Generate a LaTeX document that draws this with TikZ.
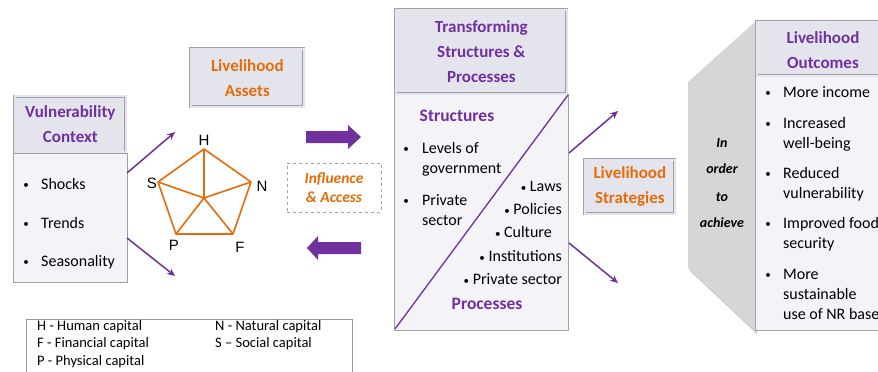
\documentclass[tikz,border=0pt]{standalone}
\usepackage{fontspec}
\setmainfont{Carlito}
\newfontfamily\arialf{Liberation Sans}
\usetikzlibrary{arrows.meta}
\definecolor{purp}{HTML}{7030A0}
\definecolor{orng}{HTML}{E46C0A}
\definecolor{hdrfill}{HTML}{E4E4EC}
\definecolor{bodyfill}{HTML}{F3F3F8}
\definecolor{framec}{HTML}{A0A0AA}
\definecolor{hexfill}{HTML}{D6D6D6}
\newcommand{\smbul}{{\fontsize{11}{11}\selectfont•}}
\tikzset{
  hdr/.style={draw=framec, double=hdrfill, double distance=1.8pt, line width=0.7pt, fill=hdrfill,
    inner sep=0pt, anchor=north west, align=center, font=\fontsize{17}{25}\selectfont\bfseries},
  hdrtxt/.style={inner sep=0pt, align=center, font=\fontsize{17}{25}\selectfont\bfseries},
  bodybox/.style={draw=framec, line width=0.8pt, fill=bodyfill, inner sep=0pt, anchor=north west},
  txt/.style={anchor=base west, inner sep=0pt, font=\fontsize{16}{20}\selectfont},
  rtxt/.style={anchor=base east, inner sep=0pt, font=\fontsize{16}{20}\selectfont},
  bul/.style={anchor=base, inner sep=0pt, font=\fontsize{11}{11}\selectfont},
  subhd/.style={anchor=base, inner sep=0pt, text=purp, font=\fontsize{17.5}{20}\selectfont\bfseries},
  pl/.style={anchor=base, inner sep=0pt, font=\arialf\fontsize{15}{18}\selectfont},
  ach/.style={anchor=base, inner sep=0pt, font=\fontsize{14}{16}\selectfont\bfseries\itshape},
  leg/.style={anchor=base west, inner sep=0pt, font=\fontsize{14.5}{17}\selectfont},
  thinarrow/.style={draw=purp, line width=1.5pt, -{Stealth[length=8pt,width=7pt]}},
  pent/.style={draw=orng, line width=1.6pt, line join=round},
  bigarrow/.style={fill=purp, draw=none}
}
\begin{document}
\begin{tikzpicture}[x=1pt,y=-1pt]
\useasboundingbox (0,0) rectangle (878,372);
\clip (0,0) rectangle (878,372);
\fill[white] (0,0) rectangle (878,372);

% ---------- Vulnerability context ----------
\node[bodybox, minimum width=114pt, minimum height=129pt] (vb) at (13,153) {};
\node[hdr, minimum width=111pt, minimum height=56pt, text=purp] (vh) at (14.5,96) {Vulnerability\\Context};
\node[bul] (vb1) at (26,188) {•};
\node[txt] (vt1) at (41,189) {Shocks};
\node[bul] (vb2) at (26,227) {•};
\node[txt] (vt2) at (41,228) {Trends};
\node[bul] (vb3) at (26,265) {•};
\node[txt] (vt3) at (41,266) {Seasonality};

\coordinate (va1s) at (127,173);
\coordinate (va1e) at (175,132);
\coordinate (va2s) at (127,238);
\coordinate (va2e) at (175,276);
\draw[thinarrow] (va1s) -- (va1e);
\draw[thinarrow] (va2s) -- (va2e);

% ---------- Livelihood assets ----------
\node[hdr, minimum width=113pt, minimum height=58pt, text=orng] (la) at (190.5,48.5) {Livelihood\\Assets};

\coordinate (pH) at (204,149);
\coordinate (pN) at (251,182);
\coordinate (pF) at (233,234);
\coordinate (pP) at (176,234);
\coordinate (pS) at (158,182);
\coordinate (pC) at (204,198);
\draw[pent] (pH) -- (pN) -- (pF) -- (pP) -- (pS) -- cycle;
\draw[pent] (pC) -- (pH) (pC) -- (pN) (pC) -- (pF) (pC) -- (pP) (pC) -- (pS);
\node[pl] (lH) at (204,145) {H};
\node[pl] (lN) at (262,191) {N};
\node[pl] (lS) at (152,188) {S};
\node[pl] (lP) at (174,250) {P};
\node[pl] (lF) at (240,252) {F};

% ---------- Influence & access ----------
\fill[bigarrow] (306,131) -- (348,131) -- (348,125) -- (361,137) -- (348,149) -- (348,143) -- (306,143) -- cycle;
\fill[bigarrow] (361,242) -- (318,242) -- (318,236) -- (307,248) -- (318,260) -- (318,254) -- (361,254) -- cycle;
\node[draw=gray!70, dashed, line width=0.8pt, minimum width=94pt, minimum height=49pt, anchor=north west, inner sep=0pt] (ia) at (287,163) {};
\node[anchor=base, inner sep=0pt, text=orng, font=\fontsize{15.5}{18}\selectfont\itshape\bfseries] (ia1) at (334,183) {Influence};
\node[anchor=base, inner sep=0pt, text=orng, font=\fontsize{15.5}{18}\selectfont\itshape\bfseries] (ia2) at (334,202) {\& Access};

% ---------- Transforming structures ----------
\node[bodybox, minimum width=174pt, minimum height=236pt] (tb) at (394,94) {};
\node[hdr, minimum width=171pt, minimum height=84pt, text=purp] (th) at (395.5,9.5) {Transforming\\Structures \&\\Processes};
\coordinate (dA) at (395,329);
\coordinate (dB) at (568,95);
\draw[purp, line width=1.3pt] (dA) -- (dB);
\node[subhd] (ts) at (457,121) {Structures};
\node[bul] (tb1) at (406,152) {•};
\node[txt] (tt1) at (422,153) {Levels of};
\node[txt] (tt2) at (422,173) {government};
\node[bul] (tb3) at (406,204) {•};
\node[txt] (tt3) at (422,205) {Private};
\node[txt] (tt4) at (422,225) {sector};
\node[rtxt] (tr1) at (562,191) {\smbul\ Laws};
\node[rtxt] (tr2) at (562,214) {\smbul\ Policies};
\node[rtxt] (tr3) at (552,237) {\smbul\ Culture};
\node[rtxt] (tr4) at (562,261) {\smbul\ Institutions};
\node[rtxt] (tr5) at (562,284) {\smbul\ Private sector};
\node[subhd] (tp) at (487,309) {Processes};

% ---------- Livelihood strategies ----------
\coordinate (ts1s) at (569,153);
\coordinate (ts1e) at (618,111);
\coordinate (ts2s) at (569,243);
\coordinate (ts2e) at (618,283);
\draw[thinarrow] (ts1s) -- (ts1e);
\draw[thinarrow] (ts2s) -- (ts2e);
\node[hdr, minimum width=90pt, minimum height=54pt, text=orng] (ls) at (584.5,159.5) {Livelihood\\Strategies};

% ---------- In order to achieve ----------
\path[fill=gray!45] (757,25) -- (690,85) -- (690,271) -- (757,334) -- cycle;
\path[fill=hexfill] (755,22) -- (688,82) -- (688,268) -- (755,331) -- cycle;
\node[ach] (a1) at (722,147) {In};
\node[ach] (a2) at (722,173) {order};
\node[ach] (a3) at (722,201) {to};
\node[ach] (a4) at (722,227) {achieve};

% ---------- Livelihood outcomes ----------
\node[bodybox, minimum width=160pt, minimum height=254pt] (ob) at (755,76) {};
\node[hdr, minimum width=160pt, minimum height=54pt] (oh) at (756.5,21.5) {};
\node[hdrtxt, text=purp] (oht) at (823,50) {Livelihood\\Outcomes};
\node[bul] (ob1) at (768,96) {•};
\node[txt] (ot1) at (783,97) {More income};
\node[bul] (ob2) at (768,127) {•};
\node[txt] (ot2) at (783,128) {Increased};
\node[txt] (ot3) at (783,148) {well-being};
\node[bul] (ob4) at (768,177) {•};
\node[txt] (ot4) at (783,178) {Reduced};
\node[txt] (ot5) at (783,198) {vulnerability};
\node[bul] (ob6) at (768,227) {•};
\node[txt] (ot6) at (783,228) {Improved food};
\node[txt] (ot7) at (783,248) {security};
\node[bul] (ob8) at (768,278) {•};
\node[txt] (ot8) at (783,279) {More};
\node[txt] (ot9) at (783,299) {sustainable};
\node[txt] (ot10) at (783,319) {use of NR base};

% ---------- Legend ----------
\node[draw=gray!80, line width=0.7pt, minimum width=326pt, minimum height=80pt, anchor=north west, inner sep=0pt] (lg) at (26,319) {};
\node[leg] (g1) at (37,330) {H - Human capital};
\node[leg] (g2) at (37,347) {F - Financial capital};
\node[leg] (g3) at (37,365) {P - Physical capital};
\node[leg] (g4) at (215,330) {N - Natural capital};
\node[leg] (g5) at (215,347) {S – Social capital};
\end{tikzpicture}
\end{document}
